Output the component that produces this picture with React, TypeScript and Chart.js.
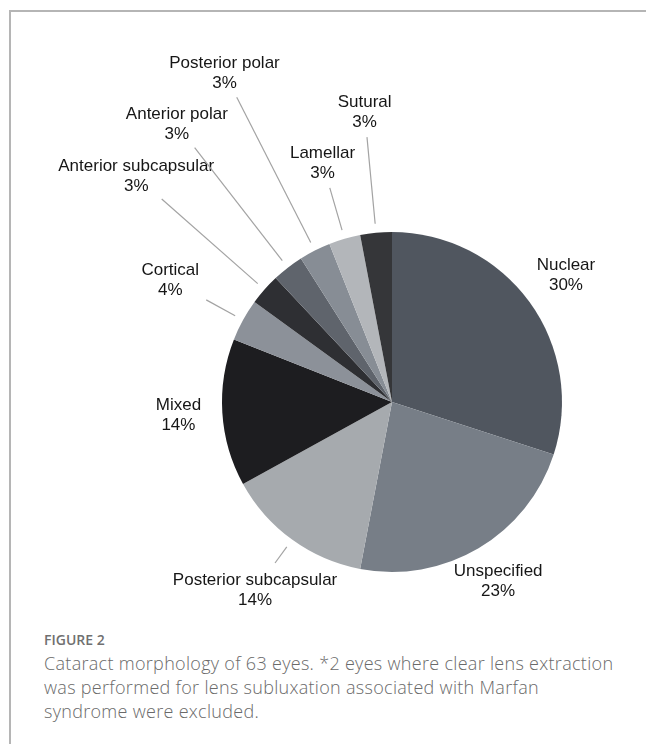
import React, { useEffect, useRef } from "react";
import { Chart, registerables } from "chart.js";

Chart.register(...registerables);

// ---- data ----
const categories = [
  "Nuclear",
  "Unspecified",
  "Posterior subcapsular",
  "Mixed",
  "Cortical",
  "Anterior subcapsular",
  "Anterior polar",
  "Posterior polar",
  "Lamellar",
  "Sutural",
];
const percentages = [30, 23, 14, 14, 4, 3, 3, 3, 3, 3];
const percentLabels = percentages.map((p) => `${p}%`);

// ---- styles / layout ----
const sliceColors = [
  "#50565f",
  "#777e87",
  "#a6aaae",
  "#1d1d20",
  "#8c9199",
  "#2e2f33",
  "#5f646c",
  "#878d95",
  "#b3b6ba",
  "#353639",
];
// distance of label centre beyond the outer radius
const labelOffsets = [45, 38.5, 63, 44, 83, 171, 181, 199, 79, 121];
// leader line outer end beyond the outer radius (0 = no leader)
const leaderOffsets = [0, 0, 29, 0, 42, 137, 152, 172, 53, 96];
const leaderGap = 9;

const captionTitle = "FIGURE 2";
const captionLines = [
  "Cataract morphology of 63 eyes. *2 eyes where clear lens extraction",
  "was performed for lens subluxation associated with Marfan",
  "syndrome were excluded.",
];

const labelPlugin = {
  id: "outerLabels",
  afterDatasetsDraw(chart: any) {
    const ctx = chart.ctx;
    const meta = chart.getDatasetMeta(0);
    ctx.save();
    meta.data.forEach((el: any, i: number) => {
      const { x, y, startAngle, endAngle, outerRadius } = el.getProps(
        ["x", "y", "startAngle", "endAngle", "outerRadius"],
        true
      );
      const mid = (startAngle + endAngle) / 2;
      const cos = Math.cos(mid);
      const sin = Math.sin(mid);
      if (leaderOffsets[i] > 0) {
        ctx.beginPath();
        ctx.strokeStyle = "#a3a3a3";
        ctx.lineWidth = 1.2;
        ctx.moveTo(x + cos * (outerRadius + leaderGap), y + sin * (outerRadius + leaderGap));
        ctx.lineTo(x + cos * (outerRadius + leaderOffsets[i]), y + sin * (outerRadius + leaderOffsets[i]));
        ctx.stroke();
      }
      const d = outerRadius + labelOffsets[i];
      const lx = x + cos * d;
      const ly = y + sin * d;
      ctx.fillStyle = "#161616";
      ctx.font = '17px "Liberation Sans", Arial, sans-serif';
      ctx.textAlign = "center";
      ctx.textBaseline = "middle";
      ctx.fillText(categories[i], lx, ly - 10);
      ctx.fillText(percentLabels[i], lx, ly + 10);
    });
    ctx.restore();
  },
};

export default function App() {
  const canvasRef = useRef<HTMLCanvasElement | null>(null);

  useEffect(() => {
    document.body.style.overflow = "hidden";
    const chart = new Chart(canvasRef.current as HTMLCanvasElement, {
      type: "pie",
      data: {
        labels: categories,
        datasets: [
          {
            data: percentages,
            backgroundColor: sliceColors,
            borderWidth: 0,
            hoverOffset: 0,
            offset: 0,
            spacing: 0,
          } as any,
        ],
      },
      options: {
        animation: false,
        responsive: true,
        maintainAspectRatio: false,
        events: [],
        layout: { padding: { left: 222, top: 232, right: 84, bottom: 53 } },
        plugins: {
          legend: { display: false },
          tooltip: { enabled: false },
        },
      },
      plugins: [labelPlugin],
    });
    return () => chart.destroy();
  }, []);

  return (
    <>
      <div
        style={{
          position: "absolute",
          left: 9,
          top: 10,
          width: 646 - 9,
          height: 744 - 10,
          borderTop: "2px solid #b5b5b5",
          borderLeft: "2px solid #b5b5b5",
          boxSizing: "border-box",
        }}
      />
      <div style={{ position: "absolute", left: 0, top: 0, width: 646, height: 625 }}>
        <canvas ref={canvasRef} />
      </div>
      <div
        style={{
          position: "absolute",
          left: 44,
          top: 628,
          lineHeight: "24px",
          fontFamily: "'Open Sans', Lato, sans-serif",
          fontSize: 14,
          fontWeight: 600,
          color: "#707070",
          whiteSpace: "nowrap",
        }}
      >
        {captionTitle}
      </div>
      <div
        style={{
          position: "absolute",
          left: 44,
          top: 651,
          lineHeight: "24px",
          fontFamily: "'Open Sans', Lato, sans-serif",
          fontSize: 18,
          letterSpacing: "0.3px",
          fontWeight: 300,
          color: "#6a6a6a",
          whiteSpace: "nowrap",
        }}
      >
        {captionLines.map((l, i) => (
          <div key={i}>{l}</div>
        ))}
      </div>
    </>
  );
}
